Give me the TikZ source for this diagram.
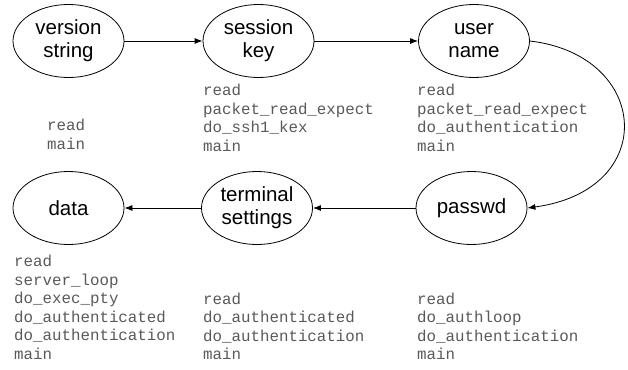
\documentclass[tikz,border=0pt]{standalone}
\usepackage{fontspec}
\setmainfont{Liberation Sans}
\setmonofont{Liberation Mono}
\usetikzlibrary{shapes.geometric,arrows.meta}
\tikzset{
  state/.style={draw,ellipse,line width=0.8pt,minimum width=111pt,minimum height=73pt,inner sep=0pt,align=center,font=\fontsize{20.5}{23}\selectfont},
  trace/.style={anchor=north west,inner sep=0pt,align=left,text=black!65,font=\ttfamily\fontsize{15.8}{18.5}\selectfont},
  edge/.style={line width=0.8pt,-{Latex[length=8pt,width=6pt]}}
}
\begin{document}
\begin{tikzpicture}[x=1pt,y=-1pt]
  \useasboundingbox (0,0) rectangle (628,369);
  \node[state] (ver) at (68.5,41) {version\\string};
  \node[state] (key) at (258.5,41) {session\\key};
  \node[state] (user) at (474,41) {user\\name};
  \node[state] (pw) at (471.5,208) {passwd};
  \node[state] (term) at (257,208) {terminal\\settings};
  \node[state] (data) at (68.5,208) {data};
  \draw[edge] (ver) -- (key);
  \draw[edge] (key) -- (user);
  \draw[edge] (user.east) .. controls (650,55) and (660,190) .. (pw.east);
  \draw[edge] (pw) -- (term);
  \draw[edge] (term) -- (data);
  \node[trace] (vertrace) at (47,119) {read\\main};
  \node[trace] (keytrace) at (203,84) {read\\packet\_read\_expect\\do\_ssh1\_kex\\main};
  \node[trace] (usertrace) at (417,84) {read\\packet\_read\_expect\\do\_authentication\\main};
  \node[trace] (datatrace) at (14,255) {read\\server\_loop\\do\_exec\_pty\\do\_authenticated\\do\_authentication\\main};
  \node[trace] (termtrace) at (203,292.5) {read\\do\_authenticated\\do\_authentication\\main};
  \node[trace] (pwtrace) at (417,292.5) {read\\do\_authloop\\do\_authentication\\main};
\end{tikzpicture}
\end{document}
